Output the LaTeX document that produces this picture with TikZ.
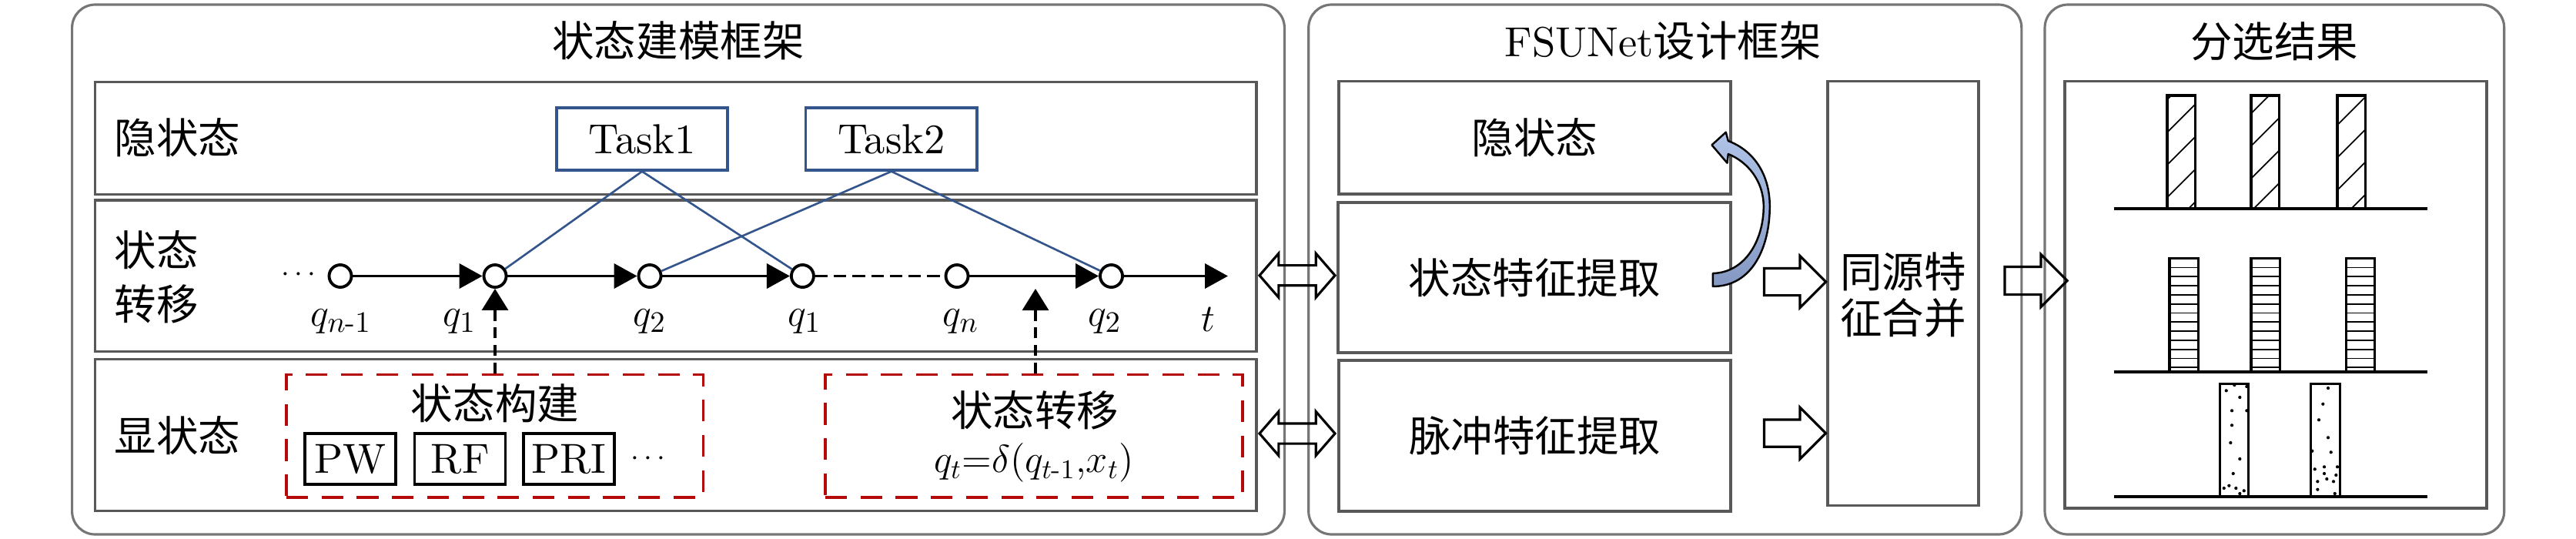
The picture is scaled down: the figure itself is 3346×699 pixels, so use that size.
\documentclass[tikz,border=0pt]{standalone}
\usepackage{amsmath}
\usepackage{fontspec}
\setmainfont{lmroman10-regular}[Extension=.otf, ItalicFont=lmroman10-italic, BoldFont=lmroman10-bold]
\newfontfamily\cjk{Noto Sans CJK SC}
\usetikzlibrary{arrows.meta,positioning,fit,shapes.arrows}

\definecolor{framegray}{RGB}{118,118,118}
\definecolor{boxgray}{RGB}{88,88,88}
\definecolor{taskblue}{RGB}{52,85,140}
\definecolor{dashred}{RGB}{180,10,10}
\definecolor{curvetop}{RGB}{176,195,232}
\definecolor{curvebot}{RGB}{132,152,194}

\tikzset{
  zh/.style={font=\cjk\fontsize{15.5}{20}\selectfont},
  outerbox/.style={draw=framegray, line width=0.9pt, rounded corners=0.3cm, inner sep=0pt},
  panel/.style={draw=boxgray, line width=1pt, inner sep=0pt},
  task/.style={draw=taskblue, line width=0.9pt, minimum width=2.22cm, minimum height=0.81cm, inner sep=0pt},
  qnode/.style={circle, draw, fill=white, line width=1.1pt, minimum size=0.29cm, inner sep=0pt},
  chainarrow/.style={line width=1.1pt, -{Triangle[length=0.3cm,width=0.32cm]}},
  link/.style={draw=taskblue, line width=0.75pt},
  upline/.style={line width=0.9pt, dash pattern=on 4pt off 2.5pt, -{Triangle[length=0.28cm,width=0.34cm]}},
  redbox/.style={draw=dashred, line width=0.9pt, dash pattern=on 8pt off 5pt, inner sep=0pt},
  feat/.style={draw, line width=0.9pt, minimum width=1.18cm, minimum height=0.66cm, inner sep=0pt},
  fatarrow/.style={single arrow, draw, line width=0.9pt, inner xsep=0pt, inner ysep=0.16cm,
    minimum height=0.8cm, minimum width=0.64cm, single arrow head extend=0.16cm},
  twinarrow/.style={double arrow, draw, line width=0.9pt, inner xsep=0pt, inner ysep=0.115cm,
    minimum height=0.98cm, minimum width=0.54cm, double arrow head extend=0.155cm, double arrow tip angle=98},
  barline/.style={line width=0.9pt},
  groundline/.style={line width=1.2pt},
}

\begin{document}
\begin{tikzpicture}[x=0.01cm, y=-0.01cm, font=\fontsize{15.5}{20}\selectfont]
    \useasboundingbox (0,0) rectangle (3346,699);

    % --- state modelling frame ---
    \node[outerbox, fit={(93.6,6) (1668.4,694)}] (model) {};
    \node[zh] (ttlmodel) at (881,53) {状态建模框架};
    \node[panel, fit={(123.4,106.7) (1632,252.3)}] (hid) {};
    \node[panel, fit={(123.4,260) (1632,456.7)}] (trans) {};
    \node[panel, fit={(123.4,466.7) (1632,663.3)}] (obs) {};
    \node[zh, anchor=west, inner sep=0pt] (lhid) at (148,179) {隐状态};
    \node[zh, anchor=west, inner sep=0pt, align=left] (ltrans) at (148,360) {状态\\转移};
    \node[zh, anchor=west, inner sep=0pt] (lobs) at (148,566) {显状态};

    % tasks
    \node[task] (task1) at (834,180.5) {Task1};
    \node[task, right=0.985cm of task1] (task2) {Task2};

    % state chain
    \node[font=\fontsize{11}{11}\selectfont] (dotsl) at (391,357) {$\cdots$};
    \node[qnode] (c0) at (442,358.5) {};
    \node[qnode] (q1) at (643,358.5) {};
    \node[qnode] (q2) at (844,358.5) {};
    \node[qnode] (q1b) at (1042.4,358.5) {};
    \node[qnode] (qn) at (1243,358.5) {};
    \node[qnode] (q2b) at (1443.5,358.5) {};
    \coordinate (tend) at (1595,358.5);

    \draw[link] (task1.south) -- (q1);
    \draw[link] (task1.south) -- (q1b);
    \draw[link] (task2.south) -- (q2);
    \draw[link] (task2.south) -- (q2b);

    \draw[chainarrow] (c0) -- (q1);
    \draw[chainarrow] (q1) -- (q2);
    \draw[chainarrow] (q2) -- (q1b);
    \draw[line width=1.1pt, dash pattern=on 4.6pt off 2.3pt] (q1b) -- (qn);
    \draw[chainarrow] (qn) -- (q2b);
    \draw[chainarrow] (q2b) -- (tend);

    \node (lc0) at (443,418) {$q_{n\text{-}1}$};
    \node (lq1) at (597,418) {$q_1$};
    \node (lq2) at (844,418) {$q_2$};
    \node (lq1b) at (1045,418) {$q_1$};
    \node (lqn) at (1248,418) {$q_n$};
    \node (lq2b) at (1435,418) {$q_2$};
    \node (lt) at (1569,415) {$t$};

    % observed states
    \node[redbox, fit={(372,486.7) (913.4,646)}] (build) {};
    \node[redbox, fit={(1072,486.7) (1614,646)}] (move) {};
    \node[zh] (lbuild) at (643,524) {状态构建};
    \node[feat] (pw) at (455,596) {PW};
    \node[feat, right=0.215cm of pw] (rf) {RF};
    \node[feat, right=0.2cm of rf] (pri) {PRI};
    \node[font=\fontsize{11}{11}\selectfont, right=0.07cm of pri] (more) {$\cdots$};
    \node[zh] (lmove) at (1344,533) {状态转移};
    \node[font=\fontsize{14.5}{18}\selectfont] (rule) at (1343,601) {$q_t{=}\delta(q_{t\text{-}1}{,}x_t)$};

    \coordinate (tq) at (1345,375);
    \draw[upline] (q1 |- build.north) -- (q1.south);
    \draw[upline] (tq |- move.north) -- (tq);

    % --- FSUNet design frame ---
    \node[outerbox, fit={(1699.7,6) (2625.8,694)}] (design) {};
    \node (ttldesign) at (2160,53) {FSUNet{\cjk 设计框架}};
    \node[panel, fit={(1739,105.7) (2248,252)}] (fhid) {};
    \node[panel, fit={(1738,263) (2248,458)}] (fstate) {};
    \node[panel, fit={(1739,468) (2248,664)}] (fpulse) {};
    \node[panel, fit={(2374,105.7) (2570,656.7)}] (merge) {};
    \node[zh] (lfhid) at (fhid) {隐状态};
    \node[zh] (lfstate) at (fstate) {状态特征提取};
    \node[zh] (lfpulse) at (fpulse) {脉冲特征提取};
    \node[zh, font=\cjk\fontsize{15.5}{17}\selectfont, align=center] (lmerge) at (2472,383) {同源特\\征合并};

    \node[twinarrow] (d1) at (1685,357.7) {};
    \node[twinarrow] (d2) at (1685,563) {};
    \node[fatarrow] (a1) at (2322.7,366) {};
    \node[fatarrow] (a2) at (2322.7,562.6) {};

    % curved arrow back to the hidden state
    \begin{scope}[shift={(fstate.east)}]
      \shadedraw[top color=curvetop, bottom color=curvebot, line width=0.7pt, line join=round]
        (-25,11.5) .. controls (27,11.5) and (49,-40.5) .. (49,-92.5)
        .. controls (49,-135.5) and (27,-165.5) .. (-5,-177.5)
        -- (-8,-188.8) -- (-26.3,-172.2) -- (-6.3,-148.8) -- (-5,-160.5)
        .. controls (20,-150.5) and (41,-125.5) .. (41,-92.5)
        .. controls (41,-48.5) and (17,-6.5) .. (-25,-5.5) -- cycle;
    \end{scope}

    % --- sorting result frame ---
    \node[outerbox, fit={(2656,6) (3252.7,694)}] (result) {};
    \node[zh] (ttlresult) at (2954,54) {分选结果};
    \node[panel, fit={(2682,105.7) (3230,660)}] (plot) {};
    \node[fatarrow, minimum height=0.81cm, inner ysep=0.165cm, minimum width=0.63cm] (a3) at (2635.5,364.5) {};

    % diagonal hatch
    \begin{scope}
      \clip (2815,124) rectangle (2851.7,271.7)
            (2924,124) rectangle (2960.7,271.7)
            (3036,124) rectangle (3072.7,271.7);
      \foreach \k in {-3,...,10}{
        \draw[line width=0.5pt] ({2986.7+42.3*\k-271.7},271.7) -- ({2986.7+42.3*\k-124},124);
      }
    \end{scope}
    \foreach \x in {2815,2924,3036}{
      \draw[barline] (\x,271.7) rectangle ++(36.7,-147.7);
    }

    % horizontal hatch
    \foreach \x in {2817.9,2924,3047.2}{
      \foreach \k in {1,...,12}{
        \draw[line width=0.5pt] (\x,{335.7+11.8*\k}) -- ++(37.6,0);
      }
      \draw[barline] (\x,482.8) rectangle ++(37.6,-147.1);
    }

    % dotted bars
    \foreach \x in {2883.3,3001.7}{
      \draw[barline] (\x,645) rectangle ++(37.4,-146.7);
    }
    \foreach \p in {(2902.3,500),(2918.3,502),(2891.7,507.3),(2909.3,516),(2899,533.3),
                    (2918.3,533.3),(2899,552.3),(2897.3,575),(2909.3,596),(2900.7,615),
                    (2888.7,634),(2895.3,630.7),(2904.3,634),(2914.7,637.3),(2909.3,641),
                    (3024,504),(3017.3,524.7),(3012,545.3),(3024,568.3),(3003.3,585.7),
                    (3027.7,587.3),(3006.7,609.3),(3019,606.3),(3036,606.3),(3019,615),
                    (3034.3,617),(3022.3,622),(3010.3,625.3),(3031,625.3),(3010.3,635.7),
                    (3032.7,641)}{
      \fill \p circle (0.6pt);
    }

    % ground lines
    \foreach \y in {270.6,482.8,645}{
      \draw[groundline] (2746,\y) -- (3153,\y);
    }
  \end{tikzpicture}
\end{document}
